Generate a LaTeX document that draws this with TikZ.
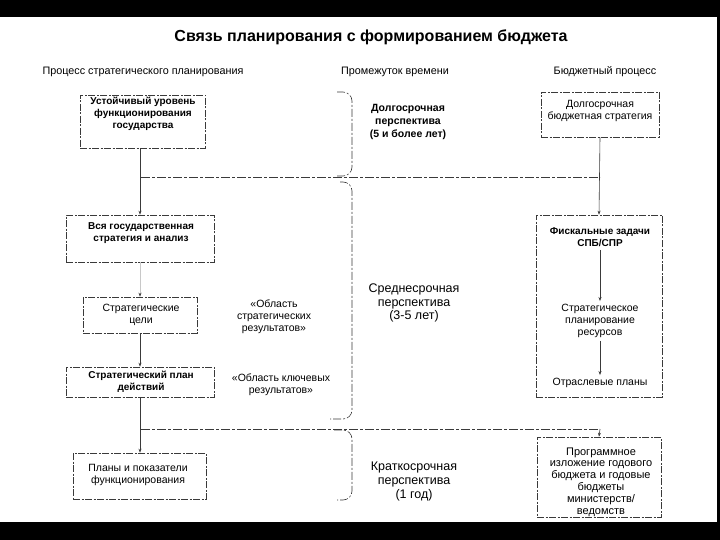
\documentclass[tikz,border=0pt]{standalone}
\usepackage{fontspec}
\setmainfont{Liberation Sans}
\usetikzlibrary{positioning,arrows.meta,fit}
\definecolor{ink}{HTML}{3A3A3A}
\definecolor{faded}{HTML}{C8C8C8}

\begin{document}
\begin{tikzpicture}[x=1pt, y=-1pt,
    box/.style={draw=ink, line width=0.6pt, dash pattern=on 7pt off 1.5pt on 2pt off 1.5pt, inner sep=0pt},
    lbl/.style={align=center, inner sep=0pt, font=\fontsize{10.5}{12}\selectfont},
    bold/.style={align=center, inner sep=0pt, font=\fontsize{10}{12}\selectfont\bfseries},
    span/.style={align=center, inner sep=0pt, font=\fontsize{12.5}{13.5}\selectfont},
    arr/.style={draw=ink, line width=0.6pt, -{Stealth[length=4pt,width=3pt]}},
    divider/.style={draw=ink, line width=0.6pt, dash pattern=on 9pt off 2pt on 3pt off 2pt},
    bracket/.style={draw=ink, line width=0.6pt, dash pattern=on 8pt off 2pt on 2pt off 2pt, rounded corners=9pt}]

    % page with the dark scan edges
    \useasboundingbox (0,0) rectangle (720,540);
    \fill[white] (0,0) rectangle (720,540);
    \fill[black] (0,0) rectangle (720,17);
    \fill[black] (0,522) rectangle (720,540);
    \fill[black] (717,17) rectangle (720,522);

    \node (title) at (371,37) {\fontsize{16}{19}\selectfont\bfseries Связь планирования с формированием бюджета};
    \node[lbl, font=\fontsize{10.8}{12}\selectfont] (hplan) at (143,72) {Процесс стратегического планирования};
    \node[lbl, font=\fontsize{10.8}{12}\selectfont] (htime) at (395,72) {Промежуток времени};
    \node[lbl, font=\fontsize{10.8}{12}\selectfont] (hbudget) at (605,72) {Бюджетный процесс};

    % strategic planning column
    \node[box, fit={(80,95) (205,148)}] (sust) {};
    \node[bold] (sustt) at (143,114) {Устойчивый уровень\\функционирования\\государства};
    \node[box, fit={(66,215) (214,262)}] (gov) {};
    \node[bold] (govt) at (141,233) {Вся государственная\\стратегия и анализ};
    \node[box, fit={(83,297) (197,333)}] (goals) {};
    \node[lbl] (goalst) at (141,315) {Стратегические\\цели};
    \node[box, fit={(66,367) (214,397)}] (plan) {};
    \node[bold] (plant) at (141,382) {Стратегический план\\действий};
    \node[box, fit={(73,453) (206,499)}] (perf) {};
    \node[lbl] (perft) at (138,475) {Планы и показатели\\функционирования};

    \node[lbl] (area1) at (274,317) {«Область\\стратегических\\результатов»};
    \node[lbl] (area2) at (281,385) {«Область ключевых\\результатов»};

    % time spans
    \draw[bracket] (337,92) -- (352,92) -- (352,176) -- (337,176);
    \draw[bracket] (340,182) -- (352,182) -- (352,419) -- (330,419);
    \draw[bracket] (334,430) -- (352,430) -- (352,500) -- (337,500);
    \node[span, font=\fontsize{10.5}{13}\selectfont\bfseries] (long) at (408,122) {Долгосрочная\\перспектива\\(5 и более лет)};
    \node[span] (mid) at (414,303) {Среднесрочная\\перспектива\\(3-5 лет)};
    \node[span, font=\fontsize{12.5}{14}\selectfont] (short) at (414,481) {Краткосрочная\\перспектива\\(1 год)};

    % budget process column
    \node[box, fit={(541,92) (659,137)}] (bstrat) {};
    \node[lbl] (bstratt) at (600,111) {Долгосрочная\\бюджетная стратегия};
    \node[box, fit={(536,215) (662,397)}] (fisc) {};
    \node[bold] (fisct) at (600,237) {Фискальные задачи\\СПБ/СПР};
    \node[lbl] (res) at (600,321) {Стратегическое\\планирование\\ресурсов};
    \node[lbl] (sect) at (600,383) {Отраслевые планы};
    \node[box, fit={(537,437) (661,517)}] (annual) {};
    \node[lbl, font=\fontsize{11}{11.8}\selectfont] (annualt) at (601,482) {Программное\\изложение годового\\бюджета и годовые\\бюджеты\\министерств/\\ведомств};

    % dividers between the spans
    \coordinate (d1l) at (141,177);
    \coordinate (d1r) at (600,177);
    \coordinate (d2l) at (141,429);
    \coordinate (d2r) at (600,429);
    \draw[divider] (d1l) -- (d1r);
    \draw[divider] (d2l) -- (d2r);

    % connectors
    \draw[arr] (sust.south -| gov.north) -- (gov.north);
    \draw[arr, draw=faded, -{Stealth[length=4pt,width=3pt,color=ink]}] (gov.south) -- (goals.north);
    \draw[arr] (goals.south) -- (goals.south |- plan.north);
    \draw[arr] (plan.south) -- (plan.south |- perf.north);
    \draw[arr] (bstrat.south) -- (fisc.north);
    \draw[arr] ([yshift=-3pt]fisct.south) -- ([yshift=3pt]res.north);
    \draw[arr] ([yshift=-3pt]res.south) -- ([yshift=3pt]sect.north);
    \draw[arr] (d2r) -- (annual.north);
\end{tikzpicture}
\end{document}
